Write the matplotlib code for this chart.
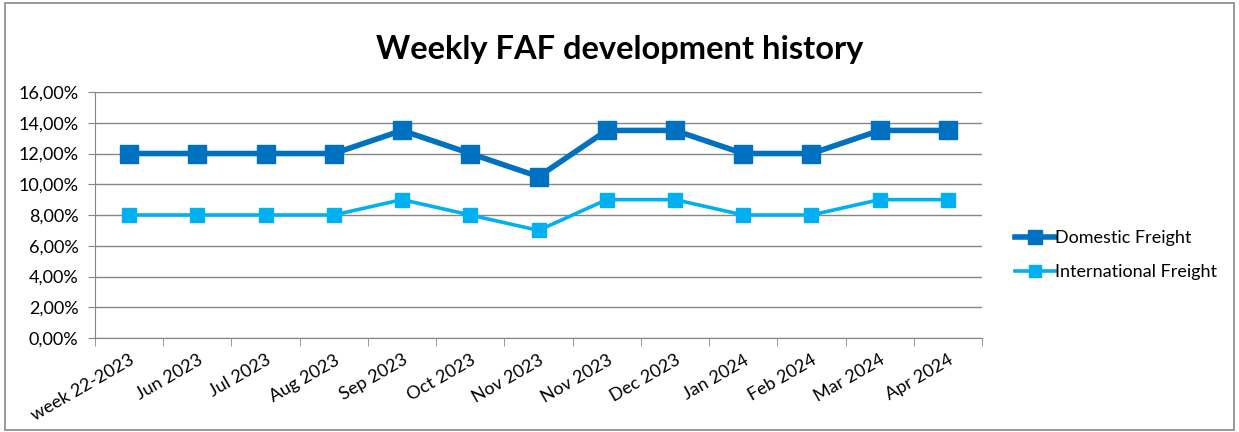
import matplotlib.pyplot as plt
import numpy as np
from matplotlib.patches import Rectangle
from matplotlib.ticker import FuncFormatter

plt.rcParams['font.family'] = ['Lato', 'DejaVu Sans']

###########                 Data                 ###########
#----------------------------------------------------------#
months = ['week 22-2023', 'Jun 2023', 'Jul 2023', 'Aug 2023', 'Sep 2023',
          'Oct 2023', 'Nov 2023', 'Nov 2023', 'Dec 2023', 'Jan 2024',
          'Feb 2024', 'Mar 2024', 'Apr 2024']
domestic = [12.0, 12.0, 12.0, 12.0, 13.5, 12.0, 10.5, 13.5, 13.5, 12.0, 12.0, 13.5, 13.5]
international = [8.0, 8.0, 8.0, 8.0, 9.0, 8.0, 7.0, 9.0, 9.0, 8.0, 8.0, 9.0, 9.0]

dom_color = '#0070C0'
int_color = '#00B0F0'
grid_color = '#868686'

###########                 Plot                 ###########
#----------------------------------------------------------#
fig = plt.figure(figsize=(12.39, 4.32), dpi=100)
fig.patches.append(Rectangle((0.004, 0.004), 0.992, 0.99, transform=fig.transFigure,
                             fill=False, edgecolor='#898989', linewidth=1.2))

ax = fig.add_axes([0.0767, 0.2176, 0.7159, 0.5694])
x = np.arange(len(months))

ax.plot(x, domestic, color=dom_color, linewidth=4.0, marker='s', markersize=13,
        label='Domestic Freight')
ax.plot(x, international, color=int_color, linewidth=2.6, marker='s', markersize=10,
        label='International Freight')

ax.set_xlim(-0.5, len(months) - 0.5)
ax.set_ylim(0, 16)
ax.set_yticks(np.arange(0, 17, 2))
ax.yaxis.set_major_formatter(FuncFormatter(lambda v, p: f'{v:.2f}%'.replace('.', ',')))
ax.grid(axis='y', color=grid_color, linewidth=1)
ax.set_axisbelow(True)

# category labels centred, tick marks on the category boundaries
ax.set_xticks(x)
ax.set_xticklabels(months, rotation=30, ha='right', rotation_mode='anchor', fontsize=13)
ax.set_xticks(np.arange(-0.5, len(months)), minor=True)
ax.tick_params(axis='x', which='major', length=0, pad=10)
ax.tick_params(axis='x', which='minor', length=6, color=grid_color, direction='out')
ax.tick_params(axis='y', length=5, color=grid_color, labelsize=13, pad=7)

for side in ['top', 'right']:
    ax.spines[side].set_visible(False)
ax.spines['left'].set_color(grid_color)
ax.spines['bottom'].set_color(grid_color)

fig.text(0.5, 0.885, 'Weekly FAF development history', ha='center', va='center',
         fontsize=23.5, fontweight='bold')

fig.legend(loc='center left', bbox_to_anchor=(0.806, 0.41), frameon=False,
           fontsize=13, handlelength=2.2, handletextpad=0.0, labelspacing=1.0,
           markerscale=0.8)

fig.savefig('out.png', dpi=100)
